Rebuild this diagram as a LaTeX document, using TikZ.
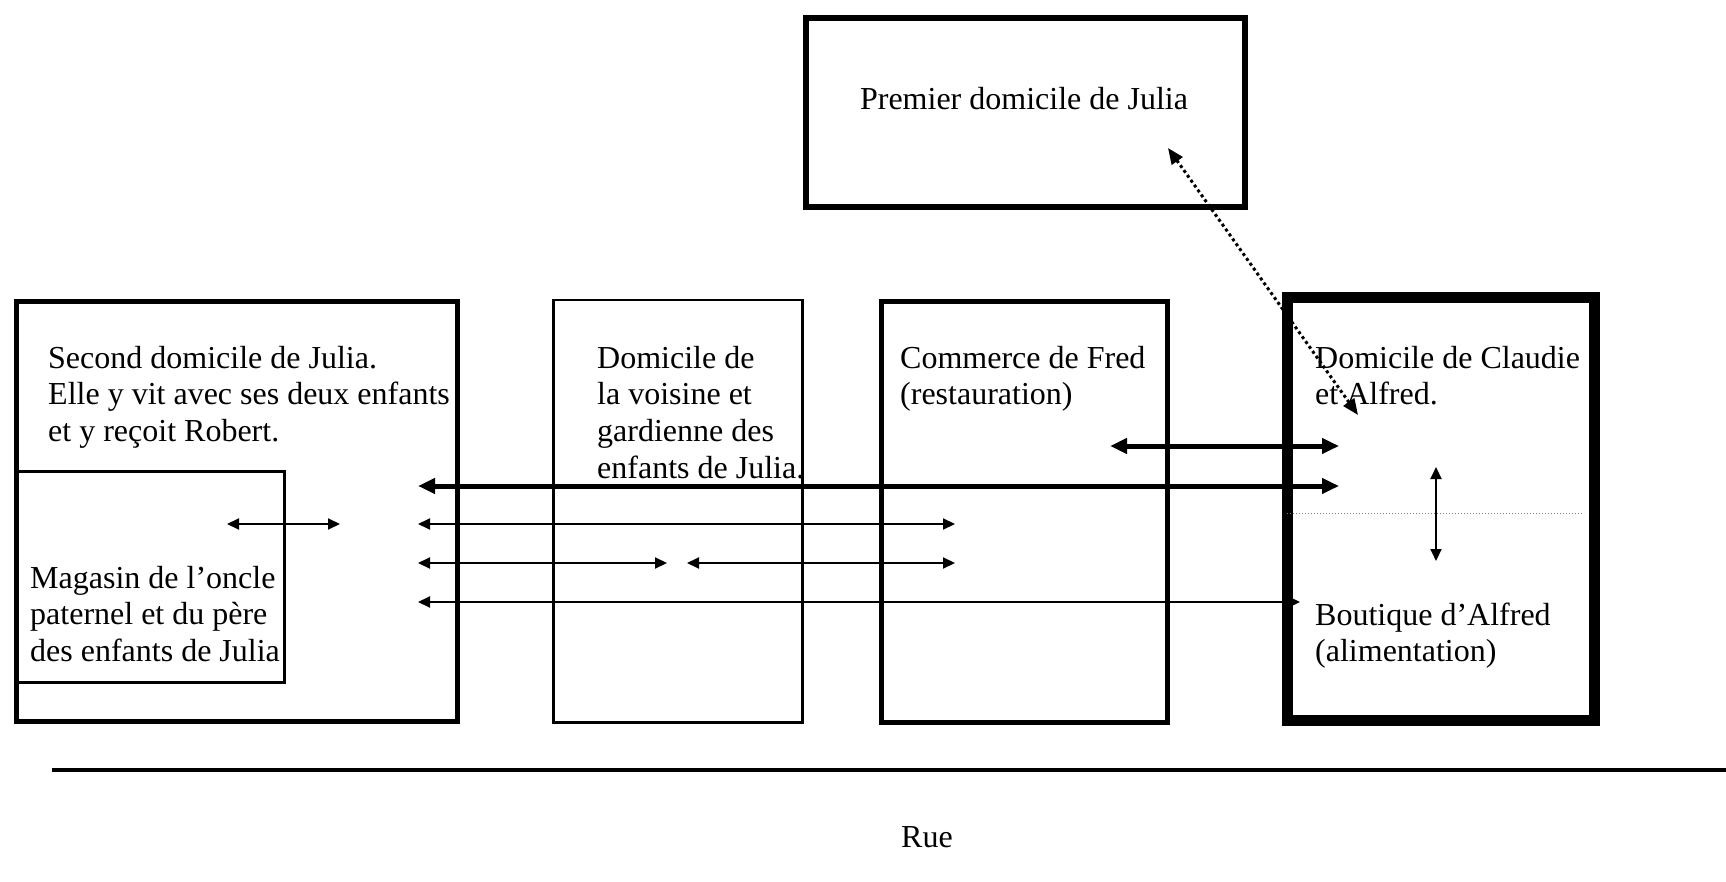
\documentclass[tikz,border=0pt]{standalone}
\usepackage{fontspec}
\setmainfont{Liberation Serif}
\usetikzlibrary{arrows.meta}
\newcommand{\linesof}[1]{\begin{tabular}[t]{@{}l@{}}#1\end{tabular}}
\begin{document}
\begin{tikzpicture}[x=1pt,y=-1pt,
  txt/.style={anchor=base west, inner sep=0pt, font=\fontsize{32}{36.8}\selectfont},
  ctxt/.style={anchor=base, inner sep=0pt, font=\fontsize{32}{36.8}\selectfont},
  house/.style={draw, anchor=north west, inner sep=0pt, line width=#1},
  thick arrow/.style={line width=5pt, {Triangle[length=17pt,width=15pt]}-{Triangle[length=17pt,width=15pt]}},
  thin arrow/.style={line width=2pt, {Triangle[length=12pt,width=11pt]}-{Triangle[length=12pt,width=11pt]}},
  dot arrow/.style={line width=3pt, dash pattern=on 3pt off 3pt, {Triangle[length=16pt,width=13pt]}-{Triangle[length=16pt,width=13pt]}}]
\useasboundingbox (0,0) rectangle (1726,882);
% boxes
\node[house=6pt, minimum width=439pt, minimum height=189pt] (premier) at (803,15.5) {};
\node[house=5pt, minimum width=441pt, minimum height=420pt] (second) at (14,299) {};
\node[house=2.5pt, minimum width=269pt, minimum height=211pt] (magasin) at (14,470) {};
\node[house=2.5pt, minimum width=249pt, minimum height=422pt] (voisine) at (552,299) {};
\node[house=5pt, minimum width=286pt, minimum height=421pt] (fred) at (879,299) {};
\node[house=11pt, minimum width=307pt, minimum height=423pt] (claudie) at (1282,292) {};
% separation etage / boutique
\coordinate (sepl) at (1287,513);
\coordinate (sepr) at (1584,513);
\draw[line width=1pt, gray, dash pattern=on 1pt off 2pt] (sepl) -- (sepr);
% rue
\coordinate (ruel) at (52,770);
\coordinate (ruer) at (1726,770);
\draw[line width=3.5pt] (ruel) -- (ruer);
% texts
\node[ctxt] (tpremier) at (1024,110) {Premier domicile de Julia};
\node[txt] (tsecond) at (48,368) {\linesof{Second domicile de Julia.\\Elle y vit avec ses deux enfants\\et y reçoit Robert.}};
\node[txt] (tmagasin) at (30,588) {\linesof{Magasin de l’oncle\\paternel et du père\\des enfants de Julia}};
\node[txt] (tvoisine) at (597,368) {\linesof{Domicile de\\la voisine et\\gardienne des\\enfants de Julia.}};
\node[txt] (tfred) at (900,368) {\linesof{Commerce de Fred\\(restauration)}};
\node[txt] (tclaudie) at (1315,368) {\linesof{Domicile de Claudie\\et Alfred.}};
\node[txt] (tboutique) at (1315,625) {\linesof{Boutique d’Alfred\\(alimentation)}};
\node[ctxt] (true) at (927,847) {Rue};
% arrow ends
\coordinate (a1l) at (1110,446); \coordinate (a1r) at (1339,446);
\coordinate (a2l) at (418,486);  \coordinate (a2r) at (1339,486);
\coordinate (a3l) at (227,524);  \coordinate (a3r) at (340,524);
\coordinate (a4l) at (418,524);  \coordinate (a4r) at (955,524);
\coordinate (a5l) at (418,563);  \coordinate (a5r) at (667,563);
\coordinate (a6l) at (687,563);  \coordinate (a6r) at (955,563);
\coordinate (a7l) at (418,602);  \coordinate (a7r) at (1300,602);
\coordinate (a8t) at (1436,467); \coordinate (a8b) at (1436,561);
\coordinate (a9t) at (1168,148); \coordinate (a9b) at (1358,415);
% arrows
\draw[thick arrow] (a1l) -- (a1r);
\draw[thick arrow] (a2l) -- (a2r);
\draw[thin arrow] (a3l) -- (a3r);
\draw[thin arrow] (a4l) -- (a4r);
\draw[thin arrow] (a5l) -- (a5r);
\draw[thin arrow] (a6l) -- (a6r);
\draw[thin arrow] (a7l) -- (a7r);
\draw[thin arrow] (a8t) -- (a8b);
\draw[dot arrow] (a9t) -- (a9b);
\end{tikzpicture}
\end{document}
